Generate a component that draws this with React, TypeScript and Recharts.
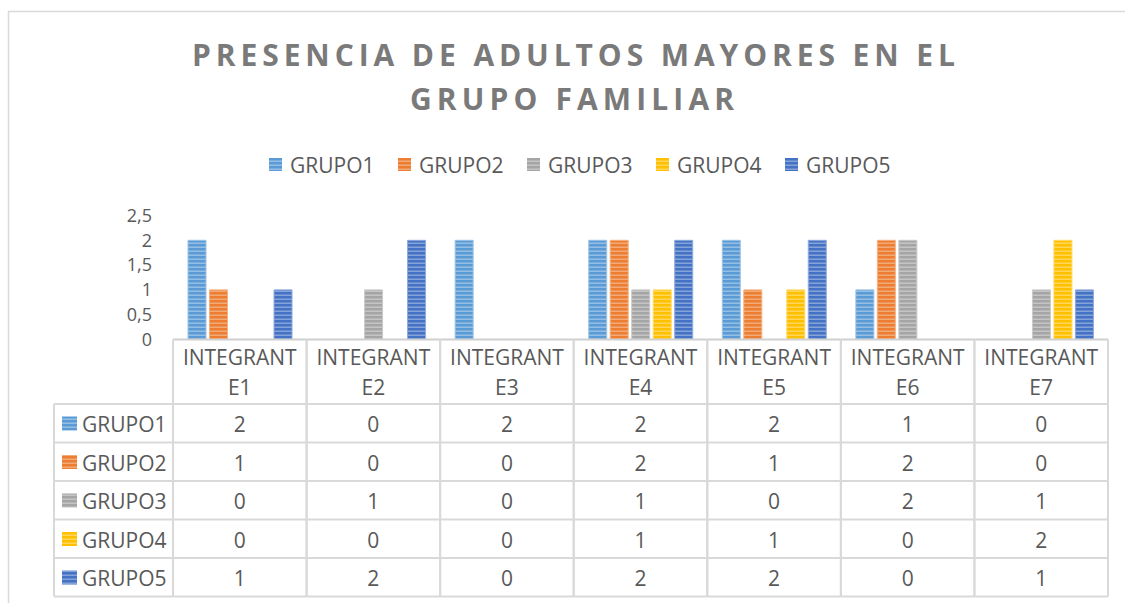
import React from 'react';
import { BarChart, Bar, XAxis, YAxis, Legend } from 'recharts';

// ---------- data ----------
const categories = ['INTEGRANTE1', 'INTEGRANTE2', 'INTEGRANTE3', 'INTEGRANTE4', 'INTEGRANTE5', 'INTEGRANTE6', 'INTEGRANTE7'];
const seriesNames = ['GRUPO1', 'GRUPO2', 'GRUPO3', 'GRUPO4', 'GRUPO5'];
const grupo1 = [2, 0, 2, 2, 2, 1, 0];
const grupo2 = [1, 0, 0, 2, 1, 2, 0];
const grupo3 = [0, 1, 0, 1, 0, 2, 1];
const grupo4 = [0, 0, 0, 1, 1, 0, 2];
const grupo5 = [1, 2, 0, 2, 2, 0, 1];
const yTicks = [0, 0.5, 1, 1.5, 2, 2.5];
const titleLines = ['PRESENCIA DE ADULTOS MAYORES EN EL', 'GRUPO FAMILIAR'];

const seriesValues = [grupo1, grupo2, grupo3, grupo4, grupo5];
const seriesColors = ['#5B9BD5', '#ED7D31', '#A5A5A5', '#FFC000', '#4472C4'];
const seriesEdges = ['#9CC3E6', '#F4B183', '#C9C9C9', '#FFD966', '#8FAADC'];

const data = categories.map((c, i) => {
  const row: Record<string, number | string> = { name: c };
  seriesNames.forEach((s, k) => {
    row[s] = seriesValues[k][i];
  });
  return row;
});

// ---------- layout ----------
const W = 1125;
const H = 603;
const PLOT_LEFT = 173;
const PLOT_RIGHT = 1108;
const PLOT_TOP = 215.5;
const PLOT_BOTTOM = 339.5;
const Y_AXIS_W = 60;
const COL_W = (PLOT_RIGHT - PLOT_LEFT) / categories.length;
const HEADER_H = 64.5;
const ROW_H = 38.5;
const LABEL_LEFT = 54;
const FONT = "'Open Sans', sans-serif";
const FS = 21;
const TEXT = '#595959';
const LINE = '#D9D9D9';

const Patterns = () => (
  <svg width={0} height={0} style={{ position: 'absolute' }}>
    <defs>
      {seriesColors.map((c, i) => (
        <pattern key={i} id={`stripe-${i}`} width={4} height={4} patternUnits="userSpaceOnUse">
          <rect width={4} height={4} fill={c} />
          <rect y={2.5} width={4} height={1.5} fill="#ffffff" opacity={0.35} />
        </pattern>
      ))}
    </defs>
  </svg>
);

const splitLabel = (s: string) => [s.slice(0, 9), s.slice(9)];

const TableTick = (props: any) => {
  const { x, y, payload } = props;
  const idx: number = payload.index;
  const left = x - COL_W / 2;
  const right = x + COL_W / 2;
  const top = y;
  const headBottom = top + HEADER_H;
  const bottom = headBottom + ROW_H * seriesNames.length;
  const [l1, l2] = splitLabel(String(payload.value));
  return (
    <g>
      <line x1={left} x2={left} y1={top} y2={bottom} stroke={LINE} strokeWidth={2} />
      <line x1={right} x2={right} y1={top} y2={bottom} stroke={LINE} strokeWidth={2} />
      {seriesNames.map((_, r) => (
        <line key={r} x1={left} x2={right} y1={headBottom + r * ROW_H} y2={headBottom + r * ROW_H} stroke={LINE} strokeWidth={2} />
      ))}
      <line x1={left} x2={right} y1={bottom} y2={bottom} stroke={LINE} strokeWidth={2} />
      <text x={x} y={top + 25} textAnchor="middle" fontFamily={FONT} fontSize={FS} fill={TEXT}>{l1}</text>
      <text x={x} y={top + 55} textAnchor="middle" fontFamily={FONT} fontSize={FS} fill={TEXT}>{l2}</text>
      {seriesValues.map((vals, r) => (
        <text key={r} x={x} y={headBottom + r * ROW_H + 28} textAnchor="middle" fontFamily={FONT} fontSize={FS} fill={TEXT}>
          {vals[idx]}
        </text>
      ))}
      {idx === 0 && (
        <g>
          <line x1={LABEL_LEFT} x2={LABEL_LEFT} y1={headBottom} y2={bottom} stroke={LINE} strokeWidth={2} />
          {seriesNames.map((n, r) => (
            <g key={n}>
              <line x1={LABEL_LEFT} x2={left} y1={headBottom + r * ROW_H} y2={headBottom + r * ROW_H} stroke={LINE} strokeWidth={2} />
              <rect x={62} y={headBottom + r * ROW_H + 12.5} width={15} height={14} fill={`url(#stripe-${r})`} />
              <text x={82} y={headBottom + r * ROW_H + 28} fontFamily={FONT} fontSize={FS} fill={TEXT}>{n}</text>
            </g>
          ))}
          <line x1={LABEL_LEFT} x2={left} y1={bottom} y2={bottom} stroke={LINE} strokeWidth={2} />
        </g>
      )}
    </g>
  );
};

const renderLegend = () => (
  <svg width={W} height={30} style={{ display: 'block' }}>
    {seriesNames.map((n, i) => {
      const x0 = 269 + i * 129;
      return (
        <g key={n}>
          <rect x={x0} y={8} width={13} height={13} fill={`url(#stripe-${i})`} />
          <text x={x0 + 21} y={22.5} fontFamily={FONT} fontSize={FS} fill={TEXT}>{n}</text>
        </g>
      );
    })}
  </svg>
);

export default function App() {
  return (
    <div style={{ position: 'absolute', left: 0, top: 0, width: W, height: H, background: '#fff', overflow: 'hidden' }}>
      <Patterns />
      <svg width={W} height={H} style={{ position: 'absolute', left: 0, top: 0 }}>
        <rect x={8.5} y={11.5} width={1130} height={620} fill="#fff" stroke={LINE} strokeWidth={1.5} />
        <text x={573.5} y={66} textAnchor="middle" fontFamily={FONT} fontWeight={700} fontSize={30} fill="#7A7A7A" textLength={763} lengthAdjust="spacing">
          {titleLines[0]}
        </text>
        <text x={572} y={110} textAnchor="middle" fontFamily={FONT} fontWeight={700} fontSize={30} fill="#7A7A7A" textLength={324} lengthAdjust="spacing">
          {titleLines[1]}
        </text>
      </svg>
      <div style={{ position: 'absolute', left: 0, top: 0 }}>
        <BarChart
          width={W}
          height={H}
          data={data}
          margin={{ top: PLOT_TOP, right: W - PLOT_RIGHT, bottom: 0, left: PLOT_LEFT - Y_AXIS_W }}
          barGap={3.5}
        >
          <XAxis
            dataKey="name"
            height={H - PLOT_BOTTOM}
            interval={0}
            tickLine={false}
            tickSize={0}
            tickMargin={0}
            axisLine={{ stroke: '#CFCFCF', strokeWidth: 2 }}
            tick={TableTick}
          />
          <YAxis
            width={Y_AXIS_W}
            domain={[0, 2.5]}
            ticks={yTicks}
            interval={0}
            axisLine={false}
            tickLine={false}
            tickSize={0}
            tickMargin={21}
            tickFormatter={(v: number) => String(v).replace('.', ',')}
            tick={{ fontFamily: FONT, fontSize: 18, fill: TEXT }}
          />
          <Legend
            layout="horizontal"
            verticalAlign="middle"
            align="center"
            content={renderLegend}
            wrapperStyle={{ position: 'absolute', top: 150, left: 0, width: W, height: 30 }}
          />
          {seriesNames.map((n, i) => (
            <Bar
              key={n}
              dataKey={n}
              fill={`url(#stripe-${i})`}
              stroke={seriesEdges[i]}
              strokeWidth={1}
              barSize={18}
              isAnimationActive={false}
            />
          ))}
        </BarChart>
      </div>
    </div>
  );
}
